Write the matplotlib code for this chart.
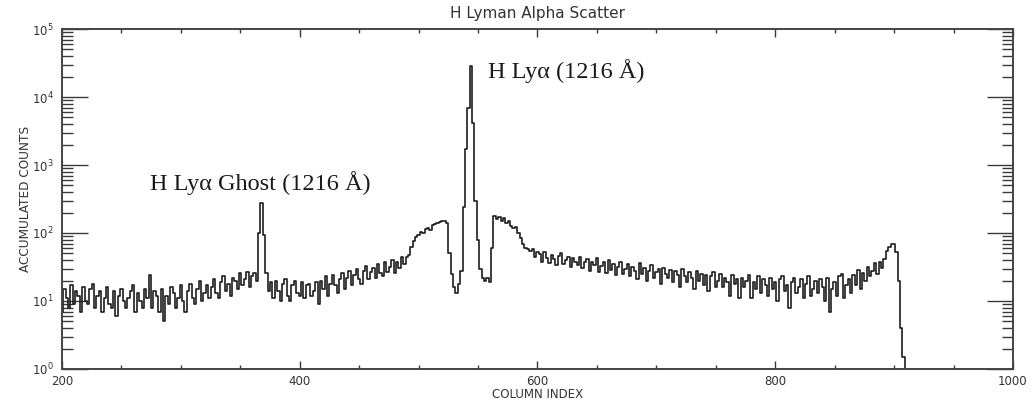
import numpy as np
import matplotlib.pyplot as plt
from matplotlib.ticker import LogLocator, NullFormatter, MultipleLocator, FixedLocator

# counts in 2-column bins starting at column 200
column_start = 200
column_step = 2

counts_left = [
    7, 15, 11, 8, 17, 9, 14, 12, 7, 16, 10, 9, 15, 18, 8, 12, 14, 7, 11, 16,
    9, 8, 14, 6, 12, 15, 10, 8, 11, 14, 17, 7, 13, 10, 8, 15, 11, 24, 8, 14,
    12, 7, 15, 5, 12, 9, 16, 13, 8, 11, 17, 10, 7, 14, 18, 11, 9, 15, 20, 10,
    13, 17, 11, 16, 21,
    13, 11, 19, 23, 14, 18, 12, 22, 20, 15, 26, 17, 21, 27, 16, 23, 26, 20,
]
counts_ghost = [100, 280, 95]
counts_mid = [
    26, 14, 19, 11, 20, 14, 10, 18, 21, 12, 10, 17, 20, 13, 12, 19, 11, 17, 18, 12,
    14, 19, 9, 20, 15, 23, 12, 18, 24, 17, 13, 21, 26, 15, 22, 28, 17, 24, 30, 21,
    18, 28, 33, 21, 27, 31, 22, 35, 26, 23, 37, 27, 32, 40, 26, 38, 31, 44, 35, 45,
]
counts_core = [
    48, 62, 75, 88, 95, 105, 100, 115, 120, 112, 130, 135, 140, 145, 148, 150,
    140, 50, 25, 16, 13, 18, 28,
    240, 1700, 7000, 29000, 4200, 300, 80,
    30, 22, 20, 22, 19, 60, 180, 160, 170, 150, 165, 140, 148, 125, 118, 122,
    100, 84, 68, 60, 58, 54,
]
counts_right = [
    58, 44, 53, 49, 38, 52, 43, 36, 48, 42, 34, 46, 50, 35, 40, 45, 32, 43, 38, 34,
    45, 31, 38, 41, 28, 37, 34, 43, 27, 33, 37, 26, 40, 29, 35, 24, 32, 37, 25, 30,
    35, 23, 32, 28, 21, 36, 25, 31, 20, 28, 34, 22, 27, 30, 18, 31, 25, 22, 29, 19,
    28, 24, 16, 30, 23, 19, 27, 22, 15, 28, 20, 25, 17, 24, 14, 23, 27, 16, 20, 25,
    16, 22, 19, 12, 24, 18, 21, 11, 22, 16, 20, 24, 11, 19, 15, 23, 13, 21, 17, 12,
    22, 15, 19, 10, 21, 23, 14, 17, 8, 19, 22, 13, 16, 21, 11, 18, 23, 12, 15, 20,
    13, 21, 16, 10, 22, 7, 15, 19, 12, 23, 25, 11, 17, 21, 13, 24, 17, 29, 15, 26,
    20, 32, 23, 28, 36, 25, 38, 31, 41, 55, 63, 70, 68, 52, 20, 4, 1.5, 0.5,
]

counts = np.array(counts_left + counts_ghost + counts_mid + counts_core + counts_right, dtype=float)
columns = column_start + column_step * np.arange(len(counts))

tick_color = "#3a3a3a"
text_color = "#333333"
plt.rcParams["font.family"] = ["DejaVu Sans"]

fig = plt.figure(figsize=(10.31, 4.03), dpi=100)
ax = fig.add_axes([0.0601, 0.0844, 0.9224, 0.8436])

ax.plot(columns, counts, drawstyle="steps-mid", color="#1e1e1e", linewidth=1.2)

ax.set_yscale("log")
ax.set_xlim(200, 1000)
ax.set_ylim(1, 1e5)

ax.xaxis.set_major_locator(MultipleLocator(200))
ax.xaxis.set_minor_locator(MultipleLocator(50))
ax.yaxis.set_major_locator(FixedLocator([1, 10, 100, 1000, 1e4, 1e5]))
ax.yaxis.set_minor_locator(LogLocator(base=10, subs=np.arange(2, 10)))
ax.yaxis.set_minor_formatter(NullFormatter())
ax.set_yticklabels([r"$10^{%d}$" % k for k in range(6)])

ax.tick_params(axis="both", which="both", direction="in", top=True, right=True,
               color=tick_color, labelcolor=text_color, labelsize=8.5, width=1.0)
ax.tick_params(axis="x", which="major", length=6, pad=4)
ax.tick_params(axis="x", which="minor", length=3)
ax.tick_params(axis="y", which="major", length=19, pad=6)
ax.tick_params(axis="y", which="minor", length=8)

for spine in ax.spines.values():
    spine.set_color("#444444")
    spine.set_linewidth(1.4)

ax.set_title("H Lyman Alpha Scatter", fontsize=11, color=text_color, pad=8)
ax.set_xlabel("COLUMN INDEX", fontsize=8.5, color=text_color, labelpad=0)
ax.set_ylabel("ACCUMULATED COUNTS", fontsize=8.7, color=text_color, labelpad=0)

serif = ["Liberation Serif", "DejaVu Serif"]
ax.text(274, 430, "H Ly\u03b1 Ghost (1216 \u00c5)", family=serif, fontsize=17.5, color="#1a1a1a")
ax.text(558, 19000, "H Ly\u03b1 (1216 \u00c5)", family=serif, fontsize=17.5, color="#1a1a1a")

fig.savefig("out.png", dpi=100)
